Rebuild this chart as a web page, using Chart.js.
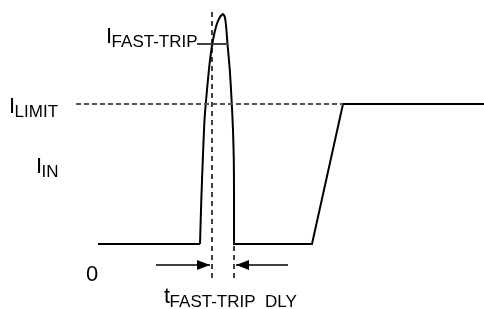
<!DOCTYPE html>
<html>
<head>
<meta charset="utf-8">
<script src="https://cdn.jsdelivr.net/npm/chart.js@4.4.0/dist/chart.umd.min.js"></script>
<style>
  html, body { margin: 0; padding: 0; background: #fff; }
  #wrap { width: 484px; height: 309px; position: relative; }
</style>
</head>
<body>
<div id="wrap"><canvas id="chart"></canvas></div>
<script>
// axis ranges (time and current, arbitrary units)
const tRange = [-20, 28.4];
const iRange = [-3.25, 12.2];

const iLimit = 7;
const iFastTrip = 10;

// current waveform: flat, fast-trip pulse, flat, ramp up to limit
const baseT = [-10.2, 0];
const baseI = [0, 0];
const pulseT = [0, 0.13, 0.28, 0.45, 0.7, 1.0, 1.3, 1.65, 2.0, 2.3, 2.48, 2.6, 2.75, 2.98, 3.16, 3.3, 3.38, 3.4];
const pulseI = [0, 2.2, 4.2, 6.2, 7.7, 9.2, 10.2, 10.95, 11.35, 11.5, 11.35, 10.95, 10, 8.7, 7.2, 5.7, 4.2, 2.7];
const restT = [3.4, 3.4, 11.2, 14.3, 28.4];
const restI = [2.7, 0, 0, iLimit, iLimit];

// reference lines
const limitT = [-12.4, 14.3];
const fastTripT = [-0.3, 2.8];
const delayStartT = 1.2;
const delayEndT = 3.4;
const markerI = [11.6, -1.75];
const arrowI = -1.05;
const arrowLeftT = [-4.4, 1.0];
const arrowRightT = [8.8, 3.6];

// labels: main text, subscript, position
const labelText = ['I', 'I', 'I', '0', 't'];
const labelSub = ['LIMIT', 'IN', 'FAST-TRIP', '', 'FAST-TRIP  DLY'];
const labelT = [-19.1, -16.4, -9.4, -11.4, -3.6];
const labelI = [6.55, 3.55, 10.05, -1.85, -2.95];

function pts(ts, is) {
  return ts.map((t, k) => ({ x: t, y: is[k] }));
}

const annotate = {
  id: 'annotate',
  afterDatasetsDraw(chart) {
    const { ctx } = chart;
    const xs = chart.scales.x;
    const ys = chart.scales.y;
    ctx.save();
    // arrow heads at the end of arrow datasets
    chart.data.datasets.forEach((ds) => {
      if (!ds.arrow) return;
      const n = ds.data.length;
      const x1 = xs.getPixelForValue(ds.data[n - 1].x);
      const y1 = ys.getPixelForValue(ds.data[n - 1].y);
      const x0 = xs.getPixelForValue(ds.data[n - 2].x);
      const dir = x1 > x0 ? 1 : -1;
      ctx.fillStyle = '#000';
      ctx.beginPath();
      ctx.moveTo(x1, y1);
      ctx.lineTo(x1 - dir * 13, y1 - 5);
      ctx.lineTo(x1 - dir * 13, y1 + 5);
      ctx.closePath();
      ctx.fill();
    });
    // text labels with subscripts
    ctx.fillStyle = '#000';
    ctx.textBaseline = 'alphabetic';
    labelText.forEach((txt, k) => {
      const px = xs.getPixelForValue(labelT[k]);
      const py = ys.getPixelForValue(labelI[k]);
      ctx.font = '22px "Liberation Sans", Arial, sans-serif';
      ctx.fillText(txt, px, py);
      const w = ctx.measureText(txt).width;
      ctx.font = '17px "Liberation Sans", Arial, sans-serif';
      ctx.fillText(labelSub[k], px + w - 0.5, py + 4);
    });
    ctx.restore();
  }
};

const line = (data, extra) => Object.assign({
  data: data,
  showLine: true,
  pointRadius: 0,
  borderColor: '#000',
  borderWidth: 2,
  fill: false,
  tension: 0
}, extra);

const ctx = document.getElementById('chart').getContext('2d');
const chart = new Chart(ctx, {
  type: 'scatter',
  data: {
    datasets: [
      line(pts(limitT, [iLimit, iLimit]), { borderColor: '#555', borderDash: [5, 3] }),
      line(pts([delayStartT, delayStartT], markerI), { borderWidth: 1.5, borderDash: [5, 4] }),
      line(pts([delayEndT, delayEndT], [-0.1, markerI[1]]), { borderWidth: 1.5, borderDash: [5, 4] }),
      line(pts(fastTripT, [iFastTrip, iFastTrip]), { borderColor: '#444' }),
      line(pts(baseT, baseI)),
      line(pts(pulseT, pulseI), { tension: 0.2 }),
      line(pts(restT, restI)),
      line(pts(arrowLeftT, [arrowI, arrowI]), { borderWidth: 1.5, arrow: true }),
      line(pts(arrowRightT, [arrowI, arrowI]), { borderWidth: 1.5, arrow: true })
    ]
  },
  options: {
    responsive: true,
    maintainAspectRatio: false,
    animation: false,
    layout: { padding: 0 },
    plugins: { legend: { display: false }, tooltip: { enabled: false } },
    scales: {
      x: { type: 'linear', display: false, min: tRange[0], max: tRange[1] },
      y: { type: 'linear', display: false, min: iRange[0], max: iRange[1] }
    }
  },
  plugins: [annotate]
});
</script>
</body>
</html>
